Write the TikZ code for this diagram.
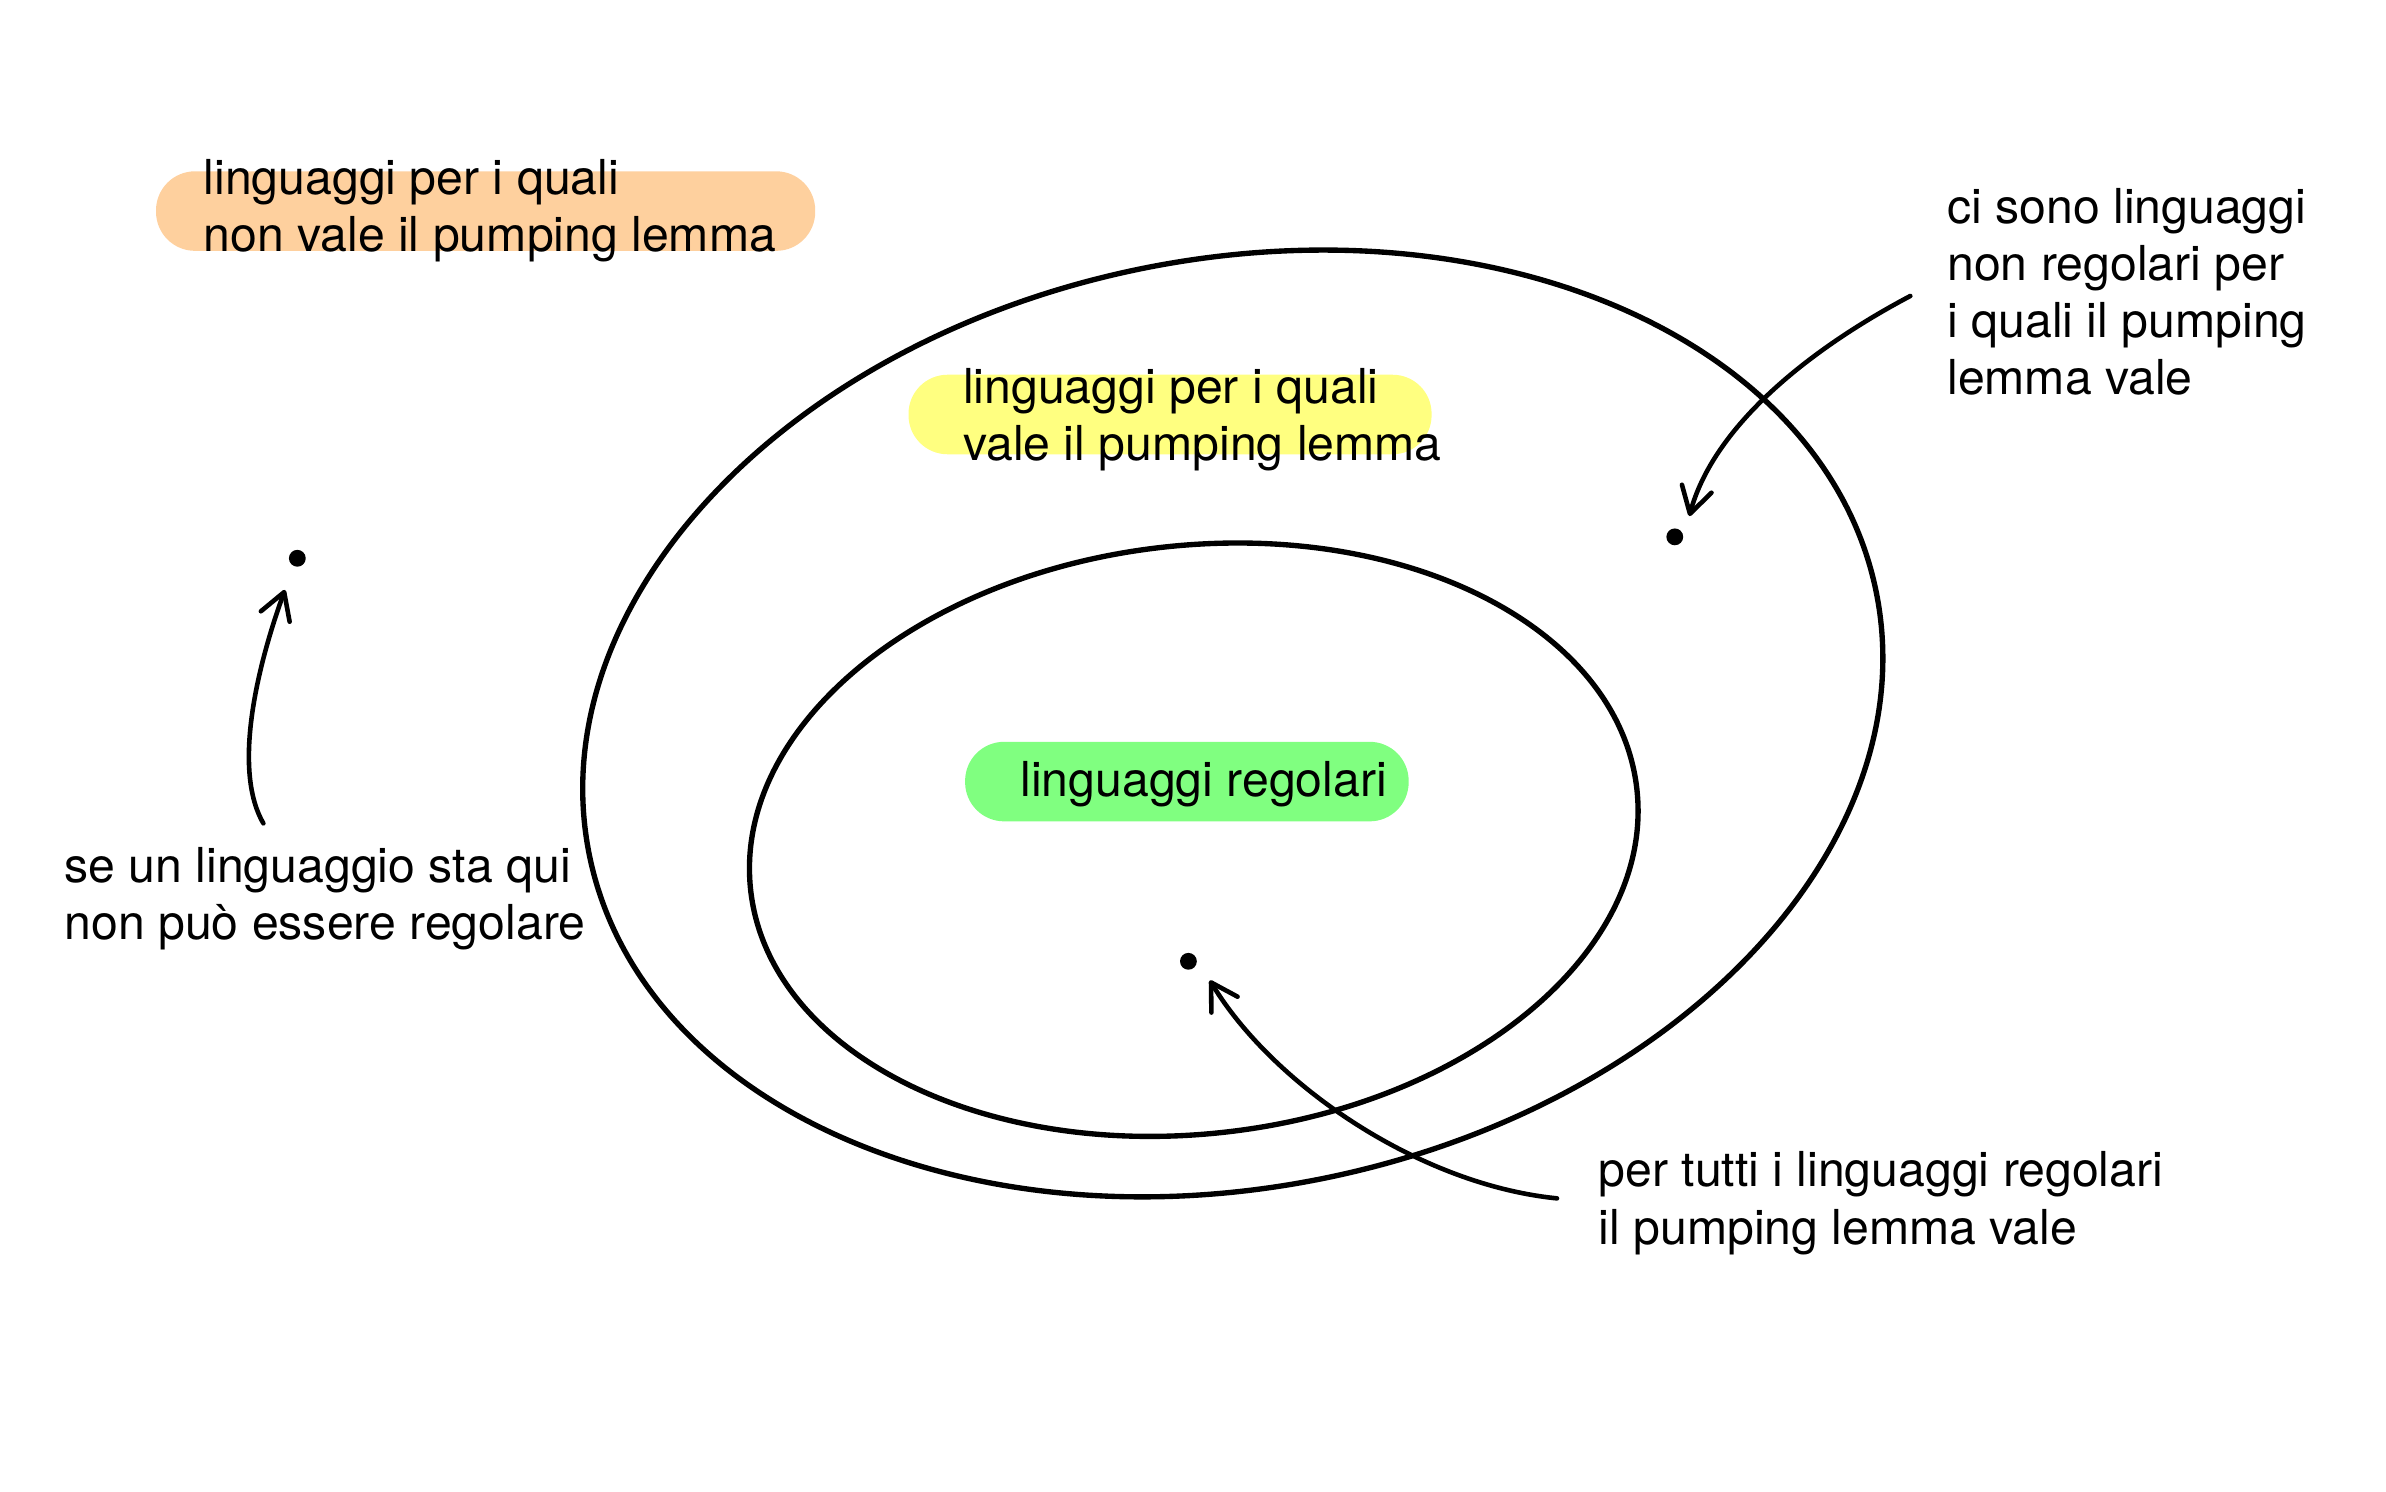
\documentclass[tikz,border=0pt]{standalone}
\usepackage{fontspec}
\setmainfont{TeX Gyre Heros}
\usetikzlibrary{arrows.meta}
\definecolor{hlorange}{RGB}{254,208,158}
\definecolor{hlyellow}{RGB}{255,255,128}
\definecolor{hlgreen}{RGB}{128,255,128}
\begin{document}
\begin{tikzpicture}[x=1pt,y=-1pt,
  lbl/.style={anchor=north west,inner sep=0pt,align=left,font=\fontsize{31.5}{37.4}\selectfont},
  hl/.style={rounded corners=25.5pt},
  setline/.style={line width=3.5pt},
  dotmark/.style={circle,fill=black,inner sep=0pt,minimum size=11pt},
  pointer/.style={line width=3pt,line cap=round,-{Straight Barb[length=17pt,width=20pt,round]}}]
\useasboundingbox (0,0) rectangle (1560,975);
% highlights
\fill[hl,hlorange] (102,112) rectangle (533,164);
\fill[hl,hlyellow] (594,245) rectangle (936,297);
\fill[hl,hlgreen] (631,485) rectangle (921,537);
% sets
\begin{scope}[shift={(806,473)},rotate=11.65]
  \draw[setline] (0,0) ellipse [x radius=429.4pt,y radius=303.3pt];
\end{scope}
\begin{scope}[shift={(780.5,549)},rotate=6.64]
  \draw[setline] (0,0) ellipse [x radius=291.6pt,y radius=192.3pt];
\end{scope}
% labels
\node[lbl] (nonvale) at (133,103.7) {linguaggi per i quali\\non vale il pumping lemma};
\node[lbl] (vale) at (629.5,240.5) {linguaggi per i quali\\vale il pumping lemma};
\node[lbl] (reg) at (667,497.7) {linguaggi regolari};
\node[lbl] (cisono) at (1273,122.8) {ci sono linguaggi\\non regolari per\\i quali il pumping\\lemma vale};
\node[lbl] (seun) at (42,553.8) {se un linguaggio sta qui\\non può essere regolare};
\node[lbl] (pertutti) at (1045,752.8) {per tutti i linguaggi regolari\\il pumping lemma vale};
% dots
\node[dotmark] (p1) at (194.4,365) {};
\node[dotmark] (p2) at (1095,351) {};
\node[dotmark] (p3) at (777,628.5) {};
% arrows
\coordinate (a1s) at (172.2,538.3);
\coordinate (a1e) at (186.3,385.7);
\coordinate (a2s) at (1249,193.5);
\coordinate (a2e) at (1104.5,337.4);
\coordinate (a3s) at (1018,783.5);
\coordinate (a3e) at (791,641);
\draw[pointer] (a1s) .. controls (150,500) and (172,425) .. (a1e);
\draw[pointer] (a2s) .. controls (1180,230) and (1120,280) .. (a2e);
\draw[pointer] (a3s) .. controls (928,774.5) and (832.4,709.4) .. (a3e);
\end{tikzpicture}
\end{document}
